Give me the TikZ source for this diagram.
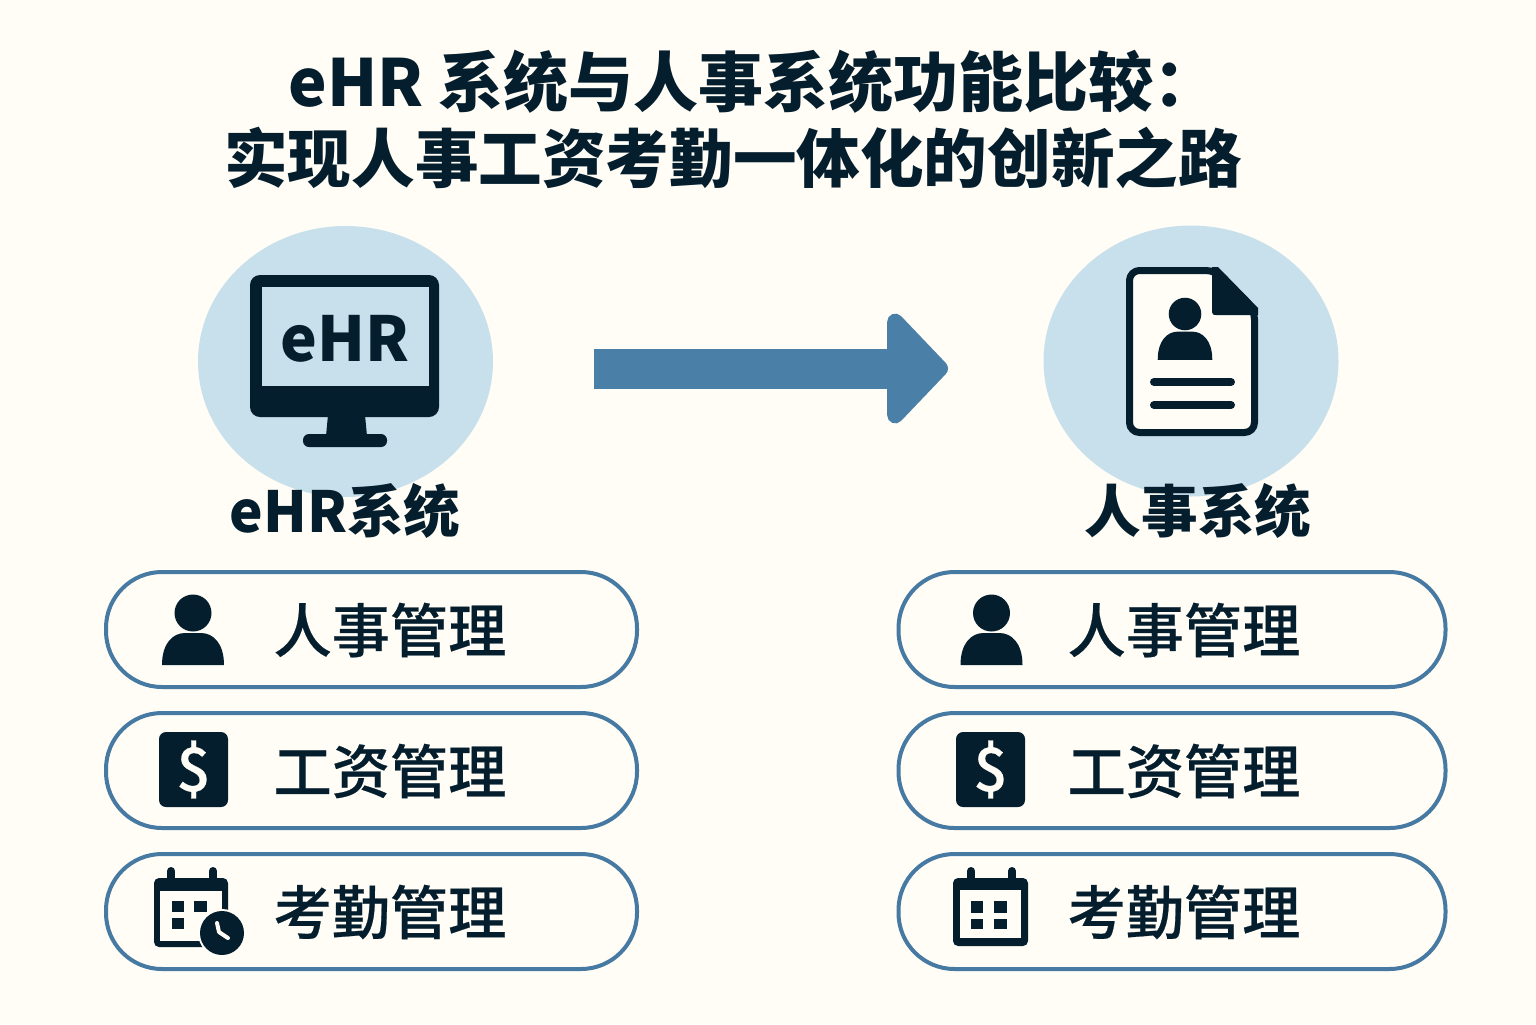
\documentclass[tikz,border=0pt]{standalone}
\usepackage{fontspec}
\setmainfont{Noto Sans CJK SC}
\newfontfamily\cjkmed[FakeBold=0.4]{Noto Sans CJK SC Medium}
\usetikzlibrary{arrows.meta,shapes.geometric}
\definecolor{pagebg}{HTML}{FFFDF6}
\definecolor{ink}{HTML}{041E2D}
\definecolor{disc}{HTML}{C8E0EC}
\definecolor{rim}{HTML}{467AA2}
\definecolor{shaft}{HTML}{4A80A8}
\tikzset{
    titletext/.style={inner sep=0pt, text=ink, font=\fontsize{31.8pt}{36pt}\selectfont\bfseries},
    sidetext/.style={inner sep=0pt, text=ink, font=\fontsize{28.3pt}{32pt}\selectfont\bfseries},
    rowtext/.style={inner sep=0pt, text=ink, font=\fontsize{29.1pt}{32pt}\cjkmed},
    disctop/.style={ellipse, fill=disc, inner sep=0pt, minimum width=147.5pt, minimum height=135.5pt},
    leftrow/.style={draw=rim, line width=2pt, rounded corners=28pt, fill=pagebg, minimum width=265.5pt, minimum height=57.5pt},
    rightrow/.style={leftrow, minimum width=273.5pt},
    personicon/.pic={
        \fill[ink] (0,0) circle [radius=18.5];
        \fill[ink] (-31,52) .. controls (-31,30) and (-20,20) .. (-8,20) -- (8,20) .. controls (20,20) and (31,30) .. (31,52) -- cycle;
    },
    dollaricon/.pic={
        \fill[ink, rounded corners=3.5pt] (-34.5,-37.5) rectangle (34.5,37.5);
        \node[inner sep=0pt, text=pagebg, font=\fontsize{30pt}{32pt}\cjkmed] at (0,0) {\$};
    }
}
\begin{document}
\begin{tikzpicture}[x=0.5pt,y=-0.5pt]
    \fill[pagebg] (0,0) rectangle (1536,1024);
    \useasboundingbox (0,0) rectangle (1536,1024);

    \node[disctop] (ehrdisc) at (345.5,361.5) {};
    \node[disctop] (hrdisc) at (1191,361) {};

    \node[titletext, font=\fontsize{32.5pt}{36pt}\selectfont\bfseries, anchor=west] (title1) at (288,82) {eHR 系统与人事系统功能比较：};
    \node[titletext] (title2) at (733,158) {实现人事工资考勤一体化的创新之路};
    \node[sidetext] (ehrlabel) at (345,511) {eHR系统};
    \node[sidetext] (hrlabel) at (1198,511) {人事系统};

    \coordinate (arrowstart) at (594,368.5);
    \coordinate (arrowend) at (948,368.5);
    \draw[shaft, line width=20pt, -{Triangle[length=32pt, width=65pt, round]}] (arrowstart) -- (arrowend);

    % monitor
    \fill[ink, rounded corners=5pt] (250,275) rectangle (439,417);
    \fill[disc] (262,287) rectangle (429,386);
    \fill[ink] (328,415) -- (365,415) -- (367,436) -- (326,436) -- cycle;
    \fill[ink, rounded corners=3pt] (303,434) rectangle (387,447);
    \node[inner sep=0pt, text=ink, font=\fontsize{31pt}{36pt}\selectfont\bfseries] (ehrscreen) at (345,339) {eHR};

    % document
    \draw[ink, fill=pagebg, line width=3.5pt, line join=round, rounded corners=5pt] (1129.5,270.5) -- (1216,270.5) -- (1254.5,309.5) -- (1254.5,432.5) -- (1129.5,432.5) -- cycle;
    \fill[ink] (1212,267) -- (1218,267) -- (1258,308) -- (1258,315) -- (1216,315) .. controls (1213,315) .. (1212,312) -- cycle;
    \pic[scale=0.88] at (1185,314) {personicon};
    \draw[ink, line width=4pt, line cap=round] (1154,382) -- (1231,382);
    \draw[ink, line width=4pt, line cap=round] (1154,405) -- (1231,405);

    % left column
    \node[leftrow] (ehrrow1) at (371.5,629.5) {};
    \node[leftrow] (ehrrow2) at (371.5,770.5) {};
    \node[leftrow] (ehrrow3) at (371.5,911.5) {};
    \node[rowtext] (ehrtext1) at (390,630) {人事管理};
    \node[rowtext] (ehrtext2) at (390,771) {工资管理};
    \node[rowtext] (ehrtext3) at (390,912) {考勤管理};
    \pic at (193,613) {personicon};
    \pic at (193.5,769.5) {dollaricon};

    \fill[ink, rounded corners=2.5pt] (154,878) rectangle (228,947);
    \fill[pagebg] (160,891) rectangle (222,941);
    \draw[ink, line width=4pt, line cap=round] (171,871) -- (171,880);
    \draw[ink, line width=4pt, line cap=round] (213,871) -- (213,880);
    \fill[ink] (172,901) rectangle (184,912);
    \fill[ink] (194,901) rectangle (207,912);
    \fill[ink] (172,918) rectangle (184,929);
    \fill[pagebg] (222,933) circle [radius=24];
    \fill[ink] (222,933) circle [radius=22];
    \draw[pagebg, line width=2pt, line cap=round, line join=round] (217,923) -- (219,932) -- (228,938);

    % right column
    \node[rightrow] (hrrow1) at (1172,629.5) {};
    \node[rightrow] (hrrow2) at (1172,770.5) {};
    \node[rightrow] (hrrow3) at (1172,911.5) {};
    \node[rowtext] (hrtext1) at (1184,630) {人事管理};
    \node[rowtext] (hrtext2) at (1184,771) {工资管理};
    \node[rowtext] (hrtext3) at (1184,912) {考勤管理};
    \pic at (991.5,613) {personicon};
    \pic at (990.5,769.5) {dollaricon};

    \fill[ink, rounded corners=2.5pt] (953,878) rectangle (1028,946);
    \fill[pagebg] (960,890) rectangle (1021,938);
    \draw[ink, line width=4pt, line cap=round] (971,871) -- (971,880);
    \draw[ink, line width=4pt, line cap=round] (1012,871) -- (1012,880);
    \fill[ink] (971,901) rectangle (983,913);
    \fill[ink] (994,901) rectangle (1007,913);
    \fill[ink] (971,919) rectangle (983,929);
    \fill[ink] (994,919) rectangle (1007,929);
\end{tikzpicture}
\end{document}
